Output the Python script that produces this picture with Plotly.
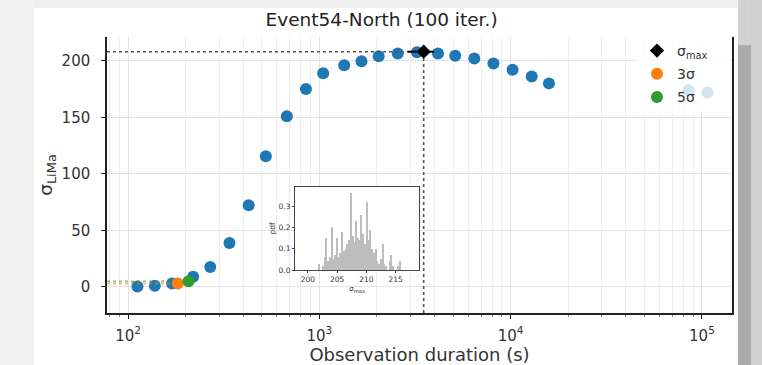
import plotly.graph_objects as go

# ---------------- data ----------------
durations = [112, 138, 170, 219, 269, 339, 427, 525, 676, 851, 1047, 1349, 1660,
             2042, 2570, 3236, 4169, 5129, 6457, 8128, 10233, 12882, 15849, 85100, 107000]
sigma_lima = [0.5, 1, 3, 9, 17.6, 38.8, 72.3, 115.5, 151, 175, 189, 196, 199.5,
              204, 206.5, 207.5, 206.5, 204.5, 202, 197.5, 192, 186, 180, 174, 172]

peak_x = [3510]
peak_y = [208]
peak_err_plus = [470]
peak_err_minus = [620]

s3_x = [182]
s3_y = [3]
s5_x = [207]
s5_y = [5]

hist_centers = [202.0, 202.3, 202.6, 202.9, 203.2, 203.5, 203.8, 204.1, 204.4, 204.7,
                205.0, 205.3, 205.6, 205.9, 206.2, 206.5, 206.8, 207.1, 207.4, 207.7,
                208.0, 208.3, 208.6, 208.9, 209.2, 209.5, 209.8, 210.1, 210.4, 210.7,
                211.0, 211.3, 211.6, 211.9, 212.2, 212.5, 212.8, 213.1, 213.4, 213.7,
                214.0, 214.3, 214.6, 214.9, 215.2, 215.5, 215.8, 216.1]
hist_density = [0.03, 0.0, 0.02, 0.06, 0.15, 0.04, 0.06, 0.20, 0.05, 0.07,
                0.15, 0.06, 0.08, 0.18, 0.09, 0.10, 0.12, 0.14, 0.36, 0.16,
                0.13, 0.23, 0.15, 0.14, 0.26, 0.17, 0.12, 0.32, 0.14, 0.19,
                0.10, 0.08, 0.10, 0.04, 0.03, 0.05, 0.12, 0.03, 0.02, 0.0,
                0.04, 0.07, 0.02, 0.0, 0.0, 0.02, 0.04, 0.0]

x_tickvals = [100, 1000, 10000, 100000]
x_ticktext = ['10<sup>2</sup>', '10<sup>3</sup>', '10<sup>4</sup>', '10<sup>5</sup>']
y_tickvals = [0, 50, 100, 150, 200]
ins_x_ticks = [200, 205, 210, 215]
ins_y_ticks = [0, 0.1, 0.2, 0.3]
ins_y_text = ['0.0', '0.1', '0.2', '0.3']

X_RANGE = [1.89, 5.157]
Y_RANGE = [-23, 221]

# ---------------- layout geometry ----------------
W, H = 762, 365
L, R, T, B = 107, 732, 37, 313

def px(x):
    return (x - L) / (R - L)

def py(y):
    return (B - y) / (B - T)

FONT = 'DejaVu Sans'
PAD = '\u2003\u2009'
fig = go.Figure()

x_left = 10 ** X_RANGE[0]

# blue points
fig.add_trace(go.Scatter(x=durations, y=sigma_lima, mode='markers',
                         marker=dict(color='#1f77b4', size=12),
                         showlegend=False))
# reference lines
fig.add_trace(go.Scatter(x=[x_left, peak_x[0]], y=[peak_y[0], peak_y[0]], mode='lines',
                         line=dict(color='#555555', dash='dot', width=1.6),
                         showlegend=False, hoverinfo='skip'))
fig.add_trace(go.Scatter(x=[peak_x[0], peak_x[0]], y=[Y_RANGE[0], peak_y[0]], mode='lines',
                         line=dict(color='#555555', dash='dot', width=1.6),
                         showlegend=False, hoverinfo='skip'))
fig.add_trace(go.Scatter(x=[x_left, s3_x[0]], y=[s3_y[0], s3_y[0]], mode='lines',
                         line=dict(color='rgba(255,127,14,0.6)', dash='dot', width=1.6),
                         showlegend=False, hoverinfo='skip'))
fig.add_trace(go.Scatter(x=[x_left, s5_x[0]], y=[s5_y[0], s5_y[0]], mode='lines',
                         line=dict(color='rgba(44,160,44,0.6)', dash='dot', width=1.6),
                         showlegend=False, hoverinfo='skip'))

fig.add_trace(go.Scatter(x=peak_x, y=peak_y, mode='markers', name='σ<sub>max</sub>' + PAD,
                         marker=dict(color='black', size=11, symbol='diamond'),
                         error_x=dict(type='data', symmetric=False, array=peak_err_plus,
                                      arrayminus=peak_err_minus, color='black',
                                      thickness=2, width=0),
                         legendgroup='a'))
fig.add_trace(go.Scatter(x=s3_x, y=s3_y, mode='markers', name='3σ',
                         marker=dict(color='#ff7f0e', size=12), legendgroup='b'))
fig.add_trace(go.Scatter(x=s5_x, y=s5_y, mode='markers', name='5σ',
                         marker=dict(color='#2ca02c', size=12), legendgroup='c'))

# inset histogram
fig.add_trace(go.Bar(x=hist_centers, y=hist_density, width=0.24,
                     marker=dict(color='#bdbdbd', line=dict(width=0)),
                     xaxis='x2', yaxis='y2', showlegend=False))

# background frame bits (screenshot surroundings)
shapes = [
    dict(type='rect', xref='paper', yref='paper', x0=px(0), x1=px(34), y0=py(H), y1=py(0),
         fillcolor='#f2f2f2', line=dict(width=0), layer='below'),
    dict(type='rect', xref='paper', yref='paper', x0=px(34), x1=px(738), y0=py(8), y1=py(0),
         fillcolor='#eeeeee', line=dict(width=0), layer='below'),
    dict(type='rect', xref='paper', yref='paper', x0=px(738), x1=px(751), y0=py(H), y1=py(45),
         fillcolor='#ababab', line=dict(width=0), layer='below'),
    dict(type='rect', xref='paper', yref='paper', x0=px(738), x1=px(751), y0=py(45), y1=py(0),
         fillcolor='#d2d2d2', line=dict(width=0), layer='below'),
    dict(type='rect', xref='paper', yref='paper', x0=px(751), x1=px(W), y0=py(H), y1=py(0),
         fillcolor='#cfcfcf', line=dict(width=0), layer='below'),
]

fig.update_layout(
    width=W, height=H,
    margin=dict(l=L, r=W - R, t=T, b=H - B, autoexpand=False),
    paper_bgcolor='white', plot_bgcolor='white',
    font=dict(family=FONT, color='#333333', size=15),
    title=dict(text='Event54-North (100 iter.)', x=px(420), xanchor='center',
               y=1 - 20 / H, yanchor='middle', font=dict(size=18.5, color='#222222')),
    showlegend=True,
    legend=dict(x=px(637), xanchor='left', y=py(35), yanchor='top',
                bgcolor='rgba(255,255,255,0.8)', borderwidth=0,
                font=dict(size=14, color='#333333'), tracegroupgap=2),
    shapes=shapes,
    xaxis=dict(type='log', range=X_RANGE, tickvals=x_tickvals, ticktext=x_ticktext,
               automargin=False,
               showline=True, linecolor='#222222', linewidth=1.5, mirror=False,
               ticks='outside', ticklen=4, tickcolor='#222222', ticklabelstandoff=4,
               showgrid=True, gridcolor='#e3e3e3', gridwidth=1, zeroline=False,
               minor=dict(showgrid=True, gridcolor='#ededed', ticks='outside', ticklen=2,
                          tickcolor='#888888', dtick='D1'),
               title=dict(text='Observation duration (s)', font=dict(size=18), standoff=4)),
    yaxis=dict(range=Y_RANGE, tickvals=y_tickvals, automargin=False,
               showline=True, linecolor='#222222', linewidth=1.5, mirror=True,
               ticks='outside', ticklen=4, tickcolor='#222222', ticklabelstandoff=8,
               showgrid=True, gridcolor='#e3e3e3', zeroline=False,
               title=dict(text='σ<sub>LiMa</sub>', font=dict(size=18.5), standoff=4)),
    xaxis2=dict(domain=[px(295), px(419)], anchor='y2', range=[197.8, 219], automargin=False,
                tickvals=ins_x_ticks, showline=True, mirror=True, linecolor='#444444',
                linewidth=1, ticks='outside', ticklen=2, showgrid=False, zeroline=False,
                tickfont=dict(size=7.5), title=dict(text='σ<sub>max</sub>', font=dict(size=7.5), standoff=1)),
    yaxis2=dict(domain=[py(270), py(187)], anchor='x2', range=[0, 0.39], automargin=False,
                tickvals=ins_y_ticks, ticktext=ins_y_text, showline=True, mirror=True,
                linecolor='#444444', linewidth=1, ticks='outside', ticklen=2,
                showgrid=False, zeroline=False, tickfont=dict(size=7.5),
                title=dict(text='pdf', font=dict(size=7.5), standoff=1)),
    bargap=0,
)

fig.write_html('out.html', config={'displayModeBar': False},
               post_script="document.body.style.margin='0px';")
